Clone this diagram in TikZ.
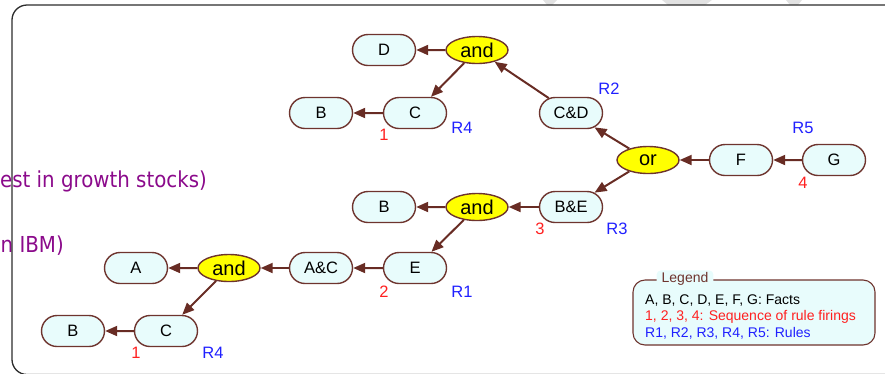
\documentclass[tikz,border=0pt]{standalone}
\usepackage{fontspec}
\setmainfont{Liberation Sans}
\newfontfamily\notefont[FakeStretch=0.9]{DejaVu Sans}
\usetikzlibrary{shapes.misc,shapes.geometric,arrows.meta}

\definecolor{factfill}{RGB}{232,252,252}
\definecolor{edgebrown}{RGB}{104,44,36}
\definecolor{boxbrown}{RGB}{110,52,46}
\definecolor{opyellow}{RGB}{255,255,0}
\definecolor{seqred}{RGB}{255,32,32}
\definecolor{ruleblue}{RGB}{32,32,255}
\definecolor{notepurple}{RGB}{139,10,139}
\definecolor{framegray}{RGB}{45,45,45}
\definecolor{markgray}{RGB}{226,226,226}

\tikzset{
  fact/.style={rounded rectangle, draw=boxbrown, line width=1.4pt, fill=factfill,
    minimum width=63pt, minimum height=31pt, inner sep=0pt,
    font=\fontsize{16.5}{18}\selectfont},
  oper/.style={ellipse, draw=boxbrown, line width=1.4pt, fill=opyellow,
    minimum width=62pt, minimum height=27pt, inner sep=0pt,
    font=\fontsize{20}{22}\selectfont},
  link/.style={draw=edgebrown, line width=2pt, -{Triangle[length=12pt,width=10pt]}},
  seqlabel/.style={text=seqred, font=\fontsize{16.5}{18}\selectfont, inner sep=0pt},
  rulelabel/.style={text=ruleblue, font=\fontsize{16.5}{18}\selectfont, inner sep=0pt},
  notetext/.style={text=notepurple, font=\notefont\fontsize{22}{24}\selectfont, inner sep=0pt},
  legendline/.style={anchor=west, inner sep=0pt, font=\fontsize{14}{16}\selectfont},
}

\begin{document}
\begin{tikzpicture}[x=1pt, y=-1pt]
\useasboundingbox (0,0) rectangle (885,373);

% faint marks along the top edge
\fill[markgray] (543,0) -- (557,0) -- (552,5) -- (547,5) -- cycle;
\fill[markgray] (662,0) -- (712,0) -- (705,5) -- (668,5) -- cycle;
\fill[markgray] (786,0) -- (802,0) -- (798,5) -- (790,5) -- cycle;

% notes running in from the left
\node[notetext, anchor=base east] (note1) at (207,187) {est in growth stocks)};
\node[notetext, anchor=base east] (note2) at (64,252) {n IBM)};

% outer frame
\draw[framegray, line width=1.3pt, rounded corners=15pt] (12,5) rectangle (905,374.5);

% facts and operators
\node[fact] (D)   at (384,50)  {D};
\node[oper] (andT) at (477,50) {and};
\node[fact] (CT)  at (415,113) {C};
\node[fact] (BT)  at (321,113) {B};
\node[fact] (CD)  at (571,113) {C\&D};
\node[oper] (or)  at (648,160) {or};
\node[fact] (F)   at (741,160) {F};
\node[fact] (G)   at (834,160) {G};
\node[fact] (BE)  at (571,207) {B\&E};
\node[oper] (andM) at (477,207) {and};
\node[fact] (BM)  at (384,207) {B};
\node[fact] (E)   at (415,268) {E};
\node[fact] (AC)  at (321,268) {A\&C};
\node[oper] (andL) at (229,268) {and};
\node[fact] (A)   at (136,268) {A};
\node[fact] (CL)  at (166,331) {C};
\node[fact] (BL)  at (73,331)  {B};

% connectors
\draw[link] (andT) -- (D);
\draw[link] (andT) -- (CT);
\draw[link] (CT) -- (BT);
\draw[link] (CD) -- (andT);
\draw[link] (or) -- (CD);
\draw[link] (or) -- (BE);
\draw[link] (F) -- (or);
\draw[link] (G) -- (F);
\draw[link] (BE) -- (andM);
\draw[link] (andM) -- (BM);
\draw[link] (andM) -- (E);
\draw[link] (E) -- (AC);
\draw[link] (AC) -- (andL);
\draw[link] (andL) -- (A);
\draw[link] (andL) -- (CL);
\draw[link] (CL) -- (BL);

% firing order and rule names
\node[seqlabel]  (s1t) at (384,135) {1};
\node[rulelabel] (r4t) at (462,128) {R4};
\node[rulelabel] (r2)  at (609,89)  {R2};
\node[rulelabel] (r5)  at (803,128) {R5};
\node[seqlabel]  (s4)  at (803,183) {4};
\node[seqlabel]  (s3)  at (540,229) {3};
\node[rulelabel] (r3)  at (617,229) {R3};
\node[seqlabel]  (s2)  at (384,292) {2};
\node[rulelabel] (r1)  at (462,292) {R1};
\node[seqlabel]  (s1l) at (136,353) {1};
\node[rulelabel] (r4l) at (213,353) {R4};

% legend
\draw[boxbrown, line width=1.1pt, fill=factfill, rounded corners=12pt]
  (633,280) rectangle (875,345);
\node[fill=factfill, rounded corners=4pt, inner xsep=5pt, inner ysep=2pt,
  text=boxbrown, font=\fontsize{14}{16}\selectfont] (legtitle) at (685,279) {Legend};
\node[legendline] (leg1) at (645,300) {A, B, C, D, E, F, G: Facts};
\node[legendline, text=seqred] (leg2) at (645,317) {1, 2, 3, 4: Sequence of rule firings};
\node[legendline, text=ruleblue] (leg3) at (645,333) {R1, R2, R3, R4, R5: Rules};
\end{tikzpicture}
\end{document}
